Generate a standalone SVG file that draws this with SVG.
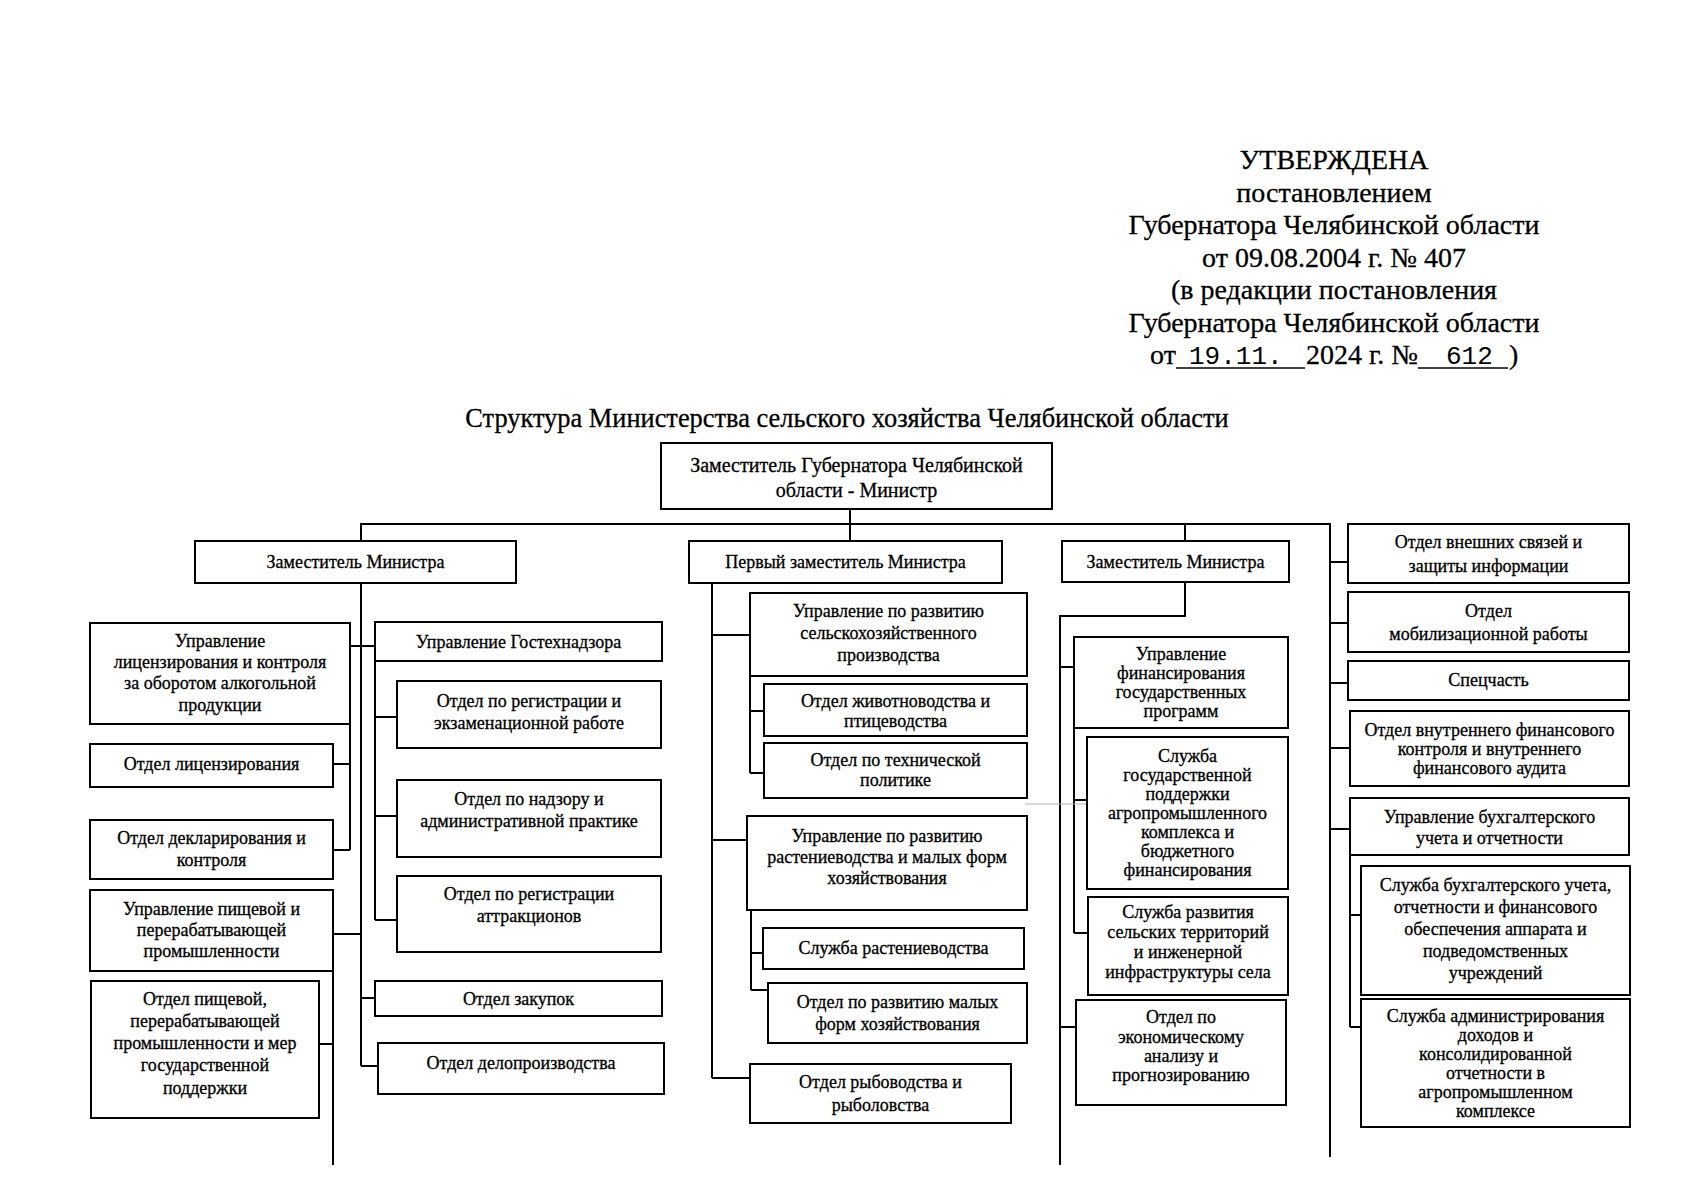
<svg xmlns="http://www.w3.org/2000/svg" width="1698" height="1200" viewBox="0 0 1698 1200">
<style>
.bg{fill:#fff}
.box{fill:#fff;stroke:#000;stroke-width:2}
.t{font-family:"Liberation Serif","Times New Roman",serif;font-size:18px;text-anchor:middle;fill:#000;stroke:#000;stroke-width:0.3}
.big{font-size:20px}
.hd{font-family:"Liberation Serif","Times New Roman",serif;font-size:28px;text-anchor:middle;fill:#000;stroke:#000;stroke-width:0.3}
.hs{font-family:"Liberation Serif","Times New Roman",serif;font-size:28px;fill:#000;stroke:#000;stroke-width:0.3}
.mono{font-family:"Liberation Mono","Courier New",monospace;font-size:26px;fill:#000}
.ttl{font-family:"Liberation Serif","Times New Roman",serif;font-size:26.4px;text-anchor:middle;fill:#000;stroke:#000;stroke-width:0.3}
.conn{stroke:#000;stroke-width:2;fill:none}
.ul{stroke:#000;stroke-width:1.6}
.faint{stroke:#b0b0b0;stroke-width:1.2}
</style>
<rect class="bg" x="0" y="0" width="1698" height="1200"/>

<g id="header">
<text class="hd" x="1334" y="169">УТВЕРЖДЕНА</text>
<text class="hd" x="1334" y="201.5">постановлением</text>
<text class="hd" x="1334" y="234">Губернатора Челябинской области</text>
<text class="hd" x="1334" y="266.5">от 09.08.2004 г. № 407</text>
<text class="hd" x="1334" y="299">(в редакции постановления</text>
<text class="hd" x="1334" y="331.5">Губернатора Челябинской области</text>
<text class="hs" x="1150" y="364">от</text>
<text class="mono" x="1189" y="364">19.11.</text>
<text class="hs" x="1306" y="364">2024 г. №</text>
<text class="mono" x="1446" y="364">612</text>
<text class="hs" x="1509" y="364">)</text>
<line class="ul" x1="1176" y1="368" x2="1305" y2="368"/>
<line class="ul" x1="1418" y1="368" x2="1508" y2="368"/>
</g>

<g id="title">
<text class="ttl" x="847" y="427">Структура Министерства сельского хозяйства Челябинской области</text>
</g>

<g id="connectors">
<path class="conn" d="M850 509V541"/>
<path class="conn" d="M361 541V524H1330V1157"/>
<path class="conn" d="M1185 524V541"/>
<path class="conn" d="M361 583V1066"/>
<path class="conn" d="M350 646H375"/>
<path class="conn" d="M350 724V850"/>
<path class="conn" d="M333 764H350"/>
<path class="conn" d="M333 850H350"/>
<path class="conn" d="M333 934H361"/>
<path class="conn" d="M333 971V1165"/>
<path class="conn" d="M319 1044H333"/>
<path class="conn" d="M375 661V920"/>
<path class="conn" d="M375 717H397"/>
<path class="conn" d="M375 816H397"/>
<path class="conn" d="M375 920H397"/>
<path class="conn" d="M361 998H375"/>
<path class="conn" d="M361 1066H378"/>
<path class="conn" d="M712 583V1078"/>
<path class="conn" d="M712 635H750"/>
<path class="conn" d="M750 676V773"/>
<path class="conn" d="M750 711H764"/>
<path class="conn" d="M750 773H764"/>
<path class="conn" d="M712 840H747"/>
<path class="conn" d="M751 910V990"/>
<path class="conn" d="M751 953H763"/>
<path class="conn" d="M751 990H768"/>
<path class="conn" d="M712 1078H750"/>
<path class="conn" d="M1185 582V616H1060V1165"/>
<path class="conn" d="M1060 667H1074"/>
<path class="conn" d="M1074 728V933"/>
<path class="conn" d="M1074 800H1087"/>
<path class="conn" d="M1074 933H1088"/>
<path class="conn" d="M1060 1027H1076"/>
<path class="conn" d="M1330 562H1348"/>
<path class="conn" d="M1330 623H1348"/>
<path class="conn" d="M1330 683H1348"/>
<path class="conn" d="M1330 748H1350"/>
<path class="conn" d="M1330 829H1350"/>
<path class="conn" d="M1350 855V1027"/>
<path class="conn" d="M1350 915H1361"/>
<path class="conn" d="M1350 1027H1361"/>
<line class="faint" x1="1025" y1="804" x2="1100" y2="804"/>
</g>

<g id="minister">
<rect class="box" x="661" y="443" width="391" height="66"/>
<text class="t big"><tspan x="856.5" y="472">Заместитель Губернатора Челябинской</tspan><tspan x="856.5" y="497">области - Министр</tspan></text>
</g>

<g id="deputy1">
<rect class="box" x="195" y="541" width="321" height="42"/>
<text class="t" x="355.5" y="568">Заместитель Министра</text>
</g>
<g id="first-deputy">
<rect class="box" x="689" y="541" width="313" height="42"/>
<text class="t" x="845.5" y="568">Первый заместитель Министра</text>
</g>
<g id="deputy3">
<rect class="box" x="1062" y="541" width="227" height="41"/>
<text class="t" x="1175.5" y="568">Заместитель Министра</text>
</g>

<g id="l1">
<rect class="box" x="90" y="623" width="260" height="101"/>
<text class="t"><tspan x="220" y="647">Управление</tspan><tspan x="220" y="668">лицензирования и контроля</tspan><tspan x="220" y="689">за оборотом алкогольной</tspan><tspan x="220" y="711">продукции</tspan></text>
</g>
<g id="l2">
<rect class="box" x="90" y="744" width="243" height="43"/>
<text class="t" x="211.5" y="770">Отдел лицензирования</text>
</g>
<g id="l3">
<rect class="box" x="90" y="820" width="243" height="59"/>
<text class="t"><tspan x="211.5" y="844">Отдел декларирования и</tspan><tspan x="211.5" y="866">контроля</tspan></text>
</g>
<g id="l4">
<rect class="box" x="90" y="890" width="243" height="81"/>
<text class="t"><tspan x="211.5" y="915">Управление пищевой и</tspan><tspan x="211.5" y="936">перерабатывающей</tspan><tspan x="211.5" y="957">промышленности</tspan></text>
</g>
<g id="l5">
<rect class="box" x="91" y="981" width="228" height="137"/>
<text class="t"><tspan x="205" y="1005">Отдел пищевой,</tspan><tspan x="205" y="1027">перерабатывающей</tspan><tspan x="205" y="1049">промышленности и мер</tspan><tspan x="205" y="1071">государственной</tspan><tspan x="205" y="1094">поддержки</tspan></text>
</g>

<g id="g0">
<rect class="box" x="375" y="622" width="287" height="39"/>
<text class="t" x="518.5" y="648">Управление Гостехнадзора</text>
</g>
<g id="g1">
<rect class="box" x="397" y="681" width="264" height="67"/>
<text class="t"><tspan x="529" y="707">Отдел по регистрации и</tspan><tspan x="529" y="729">экзаменационной работе</tspan></text>
</g>
<g id="g2">
<rect class="box" x="397" y="780" width="264" height="77"/>
<text class="t"><tspan x="529" y="805">Отдел по надзору и</tspan><tspan x="529" y="827">административной практике</tspan></text>
</g>
<g id="g3">
<rect class="box" x="397" y="876" width="264" height="76"/>
<text class="t"><tspan x="529" y="900">Отдел по регистрации</tspan><tspan x="529" y="922">аттракционов</tspan></text>
</g>
<g id="zakupki">
<rect class="box" x="375" y="981" width="287" height="35"/>
<text class="t" x="518.5" y="1005">Отдел закупок</text>
</g>
<g id="delo">
<rect class="box" x="378" y="1043" width="286" height="51"/>
<text class="t" x="521" y="1069">Отдел делопроизводства</text>
</g>

<g id="m1">
<rect class="box" x="750" y="593" width="277" height="83"/>
<text class="t"><tspan x="888.5" y="617">Управление по развитию</tspan><tspan x="888.5" y="639">сельскохозяйственного</tspan><tspan x="888.5" y="661">производства</tspan></text>
</g>
<g id="m1a">
<rect class="box" x="764" y="684" width="263" height="52"/>
<text class="t"><tspan x="895.5" y="707">Отдел животноводства и</tspan><tspan x="895.5" y="727">птицеводства</tspan></text>
</g>
<g id="m1b">
<rect class="box" x="764" y="743" width="263" height="55"/>
<text class="t"><tspan x="895.5" y="766">Отдел по технической</tspan><tspan x="895.5" y="786">политике</tspan></text>
</g>
<g id="m2">
<rect class="box" x="747" y="816" width="280" height="94"/>
<text class="t"><tspan x="887" y="842">Управление по развитию</tspan><tspan x="887" y="863">растениеводства и малых форм</tspan><tspan x="887" y="884">хозяйствования</tspan></text>
</g>
<g id="m2a">
<rect class="box" x="763" y="928" width="261" height="41"/>
<text class="t" x="893.5" y="954">Служба растениеводства</text>
</g>
<g id="m2b">
<rect class="box" x="768" y="983" width="259" height="60"/>
<text class="t"><tspan x="897.5" y="1008">Отдел по развитию малых</tspan><tspan x="897.5" y="1030">форм хозяйствования</tspan></text>
</g>
<g id="m3">
<rect class="box" x="750" y="1064" width="261" height="59"/>
<text class="t"><tspan x="880.5" y="1088">Отдел рыбоводства и</tspan><tspan x="880.5" y="1111">рыболовства</tspan></text>
</g>

<g id="c1">
<rect class="box" x="1074" y="637" width="214" height="91"/>
<text class="t"><tspan x="1181" y="660">Управление</tspan><tspan x="1181" y="679">финансирования</tspan><tspan x="1181" y="698">государственных</tspan><tspan x="1181" y="717">программ</tspan></text>
</g>
<g id="c2">
<rect class="box" x="1087" y="737" width="201" height="152"/>
<text class="t"><tspan x="1187.5" y="762">Служба</tspan><tspan x="1187.5" y="781">государственной</tspan><tspan x="1187.5" y="800">поддержки</tspan><tspan x="1187.5" y="819">агропромышленного</tspan><tspan x="1187.5" y="838">комплекса и</tspan><tspan x="1187.5" y="857">бюджетного</tspan><tspan x="1187.5" y="876">финансирования</tspan></text>
</g>
<g id="c3">
<rect class="box" x="1088" y="897" width="200" height="98"/>
<text class="t"><tspan x="1188" y="918">Служба развития</tspan><tspan x="1188" y="938">сельских территорий</tspan><tspan x="1188" y="958">и инженерной</tspan><tspan x="1188" y="978">инфраструктуры села</tspan></text>
</g>
<g id="c4">
<rect class="box" x="1076" y="1000" width="210" height="105"/>
<text class="t"><tspan x="1181" y="1023">Отдел по</tspan><tspan x="1181" y="1043">экономическому</tspan><tspan x="1181" y="1062">анализу и</tspan><tspan x="1181" y="1081">прогнозированию</tspan></text>
</g>

<g id="r1">
<rect class="box" x="1348" y="524" width="281" height="59"/>
<text class="t"><tspan x="1488.5" y="548">Отдел внешних связей и</tspan><tspan x="1488.5" y="572">защиты информации</tspan></text>
</g>
<g id="r2">
<rect class="box" x="1348" y="592" width="281" height="60"/>
<text class="t"><tspan x="1488.5" y="617">Отдел</tspan><tspan x="1488.5" y="640">мобилизационной работы</tspan></text>
</g>
<g id="r3">
<rect class="box" x="1348" y="661" width="281" height="39"/>
<text class="t" x="1488.5" y="686">Спецчасть</text>
</g>
<g id="r4">
<rect class="box" x="1350" y="711" width="279" height="75"/>
<text class="t"><tspan x="1489.5" y="736">Отдел внутреннего финансового</tspan><tspan x="1489.5" y="755">контроля и внутреннего</tspan><tspan x="1489.5" y="774">финансового аудита</tspan></text>
</g>
<g id="r5">
<rect class="box" x="1350" y="798" width="279" height="57"/>
<text class="t"><tspan x="1489.5" y="823">Управление бухгалтерского</tspan><tspan x="1489.5" y="844">учета и отчетности</tspan></text>
</g>
<g id="r5a">
<rect class="box" x="1361" y="866" width="269" height="129"/>
<text class="t"><tspan x="1495.5" y="891">Служба бухгалтерского учета,</tspan><tspan x="1495.5" y="913">отчетности и финансового</tspan><tspan x="1495.5" y="935">обеспечения аппарата и</tspan><tspan x="1495.5" y="957">подведомственных</tspan><tspan x="1495.5" y="979">учреждений</tspan></text>
</g>
<g id="r5b">
<rect class="box" x="1361" y="999" width="269" height="128"/>
<text class="t"><tspan x="1495.5" y="1022">Служба администрирования</tspan><tspan x="1495.5" y="1041">доходов и</tspan><tspan x="1495.5" y="1060">консолидированной</tspan><tspan x="1495.5" y="1079">отчетности в</tspan><tspan x="1495.5" y="1098">агропромышленном</tspan><tspan x="1495.5" y="1117">комплексе</tspan></text>
</g>
</svg>
